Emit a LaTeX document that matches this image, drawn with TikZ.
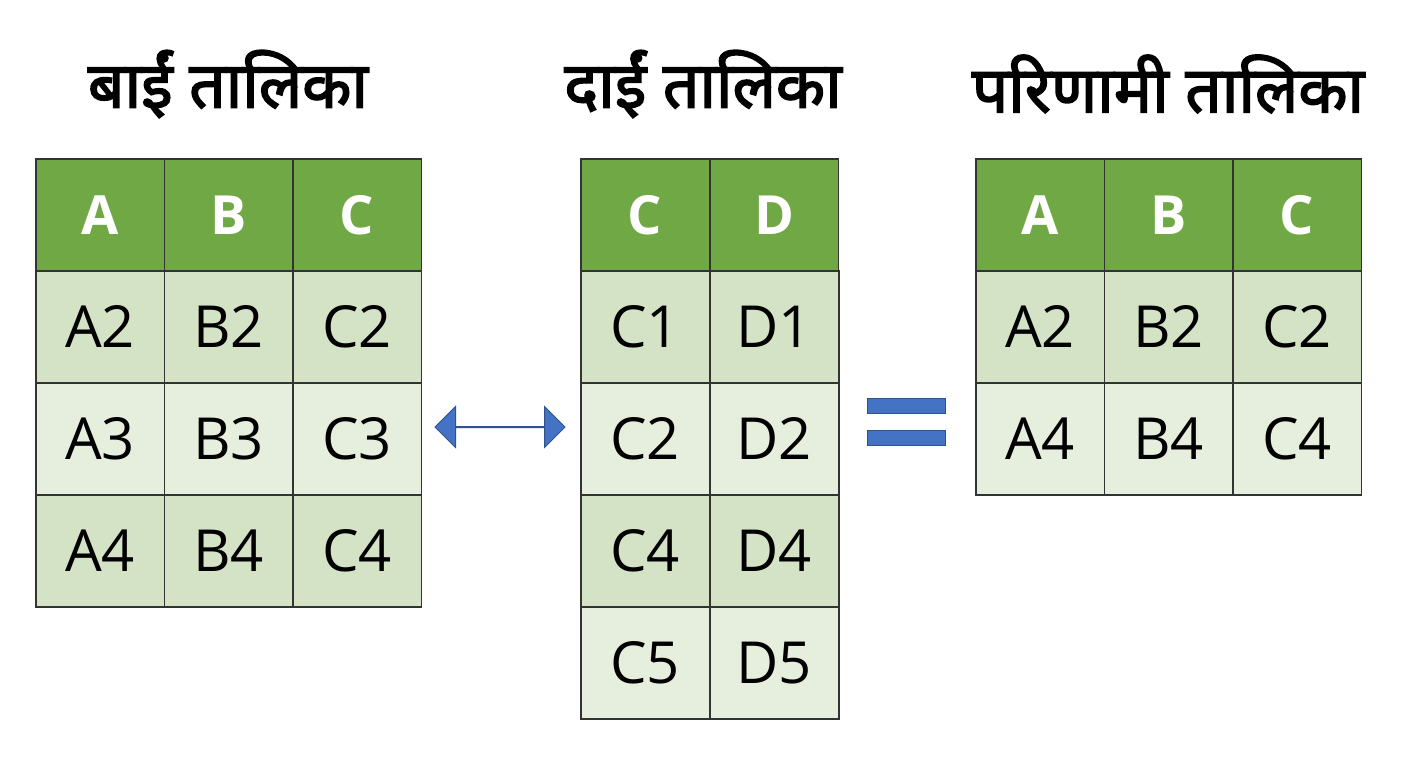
\documentclass[tikz,border=0pt]{standalone}
\usepackage{fontspec}
\setmainfont{Open Sans}
\newfontfamily\deva[Script=Devanagari,FakeBold=2.5]{Noto Sans}
\usetikzlibrary{shapes.arrows}
\definecolor{hdr}{HTML}{70A845}
\definecolor{rowa}{HTML}{D4E3C6}
\definecolor{rowb}{HTML}{E6EFDE}
\definecolor{arr}{HTML}{4472C4}
\definecolor{arrd}{HTML}{2F528F}
\begin{document}
\begin{tikzpicture}[x=1pt,y=-1pt,
 cell/.style={draw=black!80,line width=1.5pt,minimum width=128.5pt,minimum height=112pt,inner sep=0pt,anchor=north west,font=\fontsize{58}{60}\selectfont},
 hcell/.style={cell,fill=hdr,text=white,font=\fontsize{54}{56}\selectfont\bfseries},
 ra/.style={cell,fill=rowa}, rb/.style={cell,fill=rowb},
 title/.style={font=\deva\fontsize{64}{70}\selectfont},
 bar/.style={fill=arr,draw=arrd,line width=1pt,minimum width=78pt,minimum height=15pt,inner sep=0pt}]
\useasboundingbox (0,0) rectangle (1408,768);
\fill[white] (0,0) rectangle (1408,768);
% titles
\node[title] (t1) at (228,84) {बाईं तालिका};
\node[title] (t2) at (703,84) {दाईं तालिका};
\node[title] (t3) at (1168,84) {परिणामी तालिका};
% left table
\foreach \t [count=\i from 0] in {A,B,C}
  \node[hcell] (L0\i) at (35+128.5*\i,158) {\t};
\foreach \r [count=\j] in {2,3,4}{
  \pgfmathsetmacro\yy{158+112*\j}
  \ifodd\j \def\st{ra}\else\def\st{rb}\fi
  \foreach \t [count=\i from 0] in {A,B,C}
    \node[\st] (L\j\i) at (35+128.5*\i,\yy) {\t\r};
}
% middle table
\foreach \t [count=\i from 0] in {C,D}
  \node[hcell] (M0\i) at (580+129*\i,158) {\t};
\foreach \r [count=\j] in {1,2,4,5}{
  \pgfmathsetmacro\yy{158+112*\j}
  \ifodd\j \def\st{ra}\else\def\st{rb}\fi
  \foreach \t [count=\i from 0] in {C,D}
    \node[\st,minimum width=129pt] (M\j\i) at (580+129*\i,\yy) {\t\r};
}
% right table
\foreach \t [count=\i from 0] in {A,B,C}
  \node[hcell] (R0\i) at (975+128.5*\i,158) {\t};
\foreach \r [count=\j] in {2,4}{
  \pgfmathsetmacro\yy{158+112*\j}
  \ifodd\j \def\st{ra}\else\def\st{rb}\fi
  \foreach \t [count=\i from 0] in {A,B,C}
    \node[\st] (R\j\i) at (975+128.5*\i,\yy) {\t\r};
}
% double arrow
\node[double arrow,fill=arr,draw=arrd,line width=1pt,minimum width=36pt,double arrow head extend=20pt,minimum height=130pt,inner sep=0pt] (da) at (500,427) {};
% equals
\node[bar] (e1) at (906,406) {};
\node[bar] (e2) at (906,438) {};
\end{tikzpicture}
\end{document}
